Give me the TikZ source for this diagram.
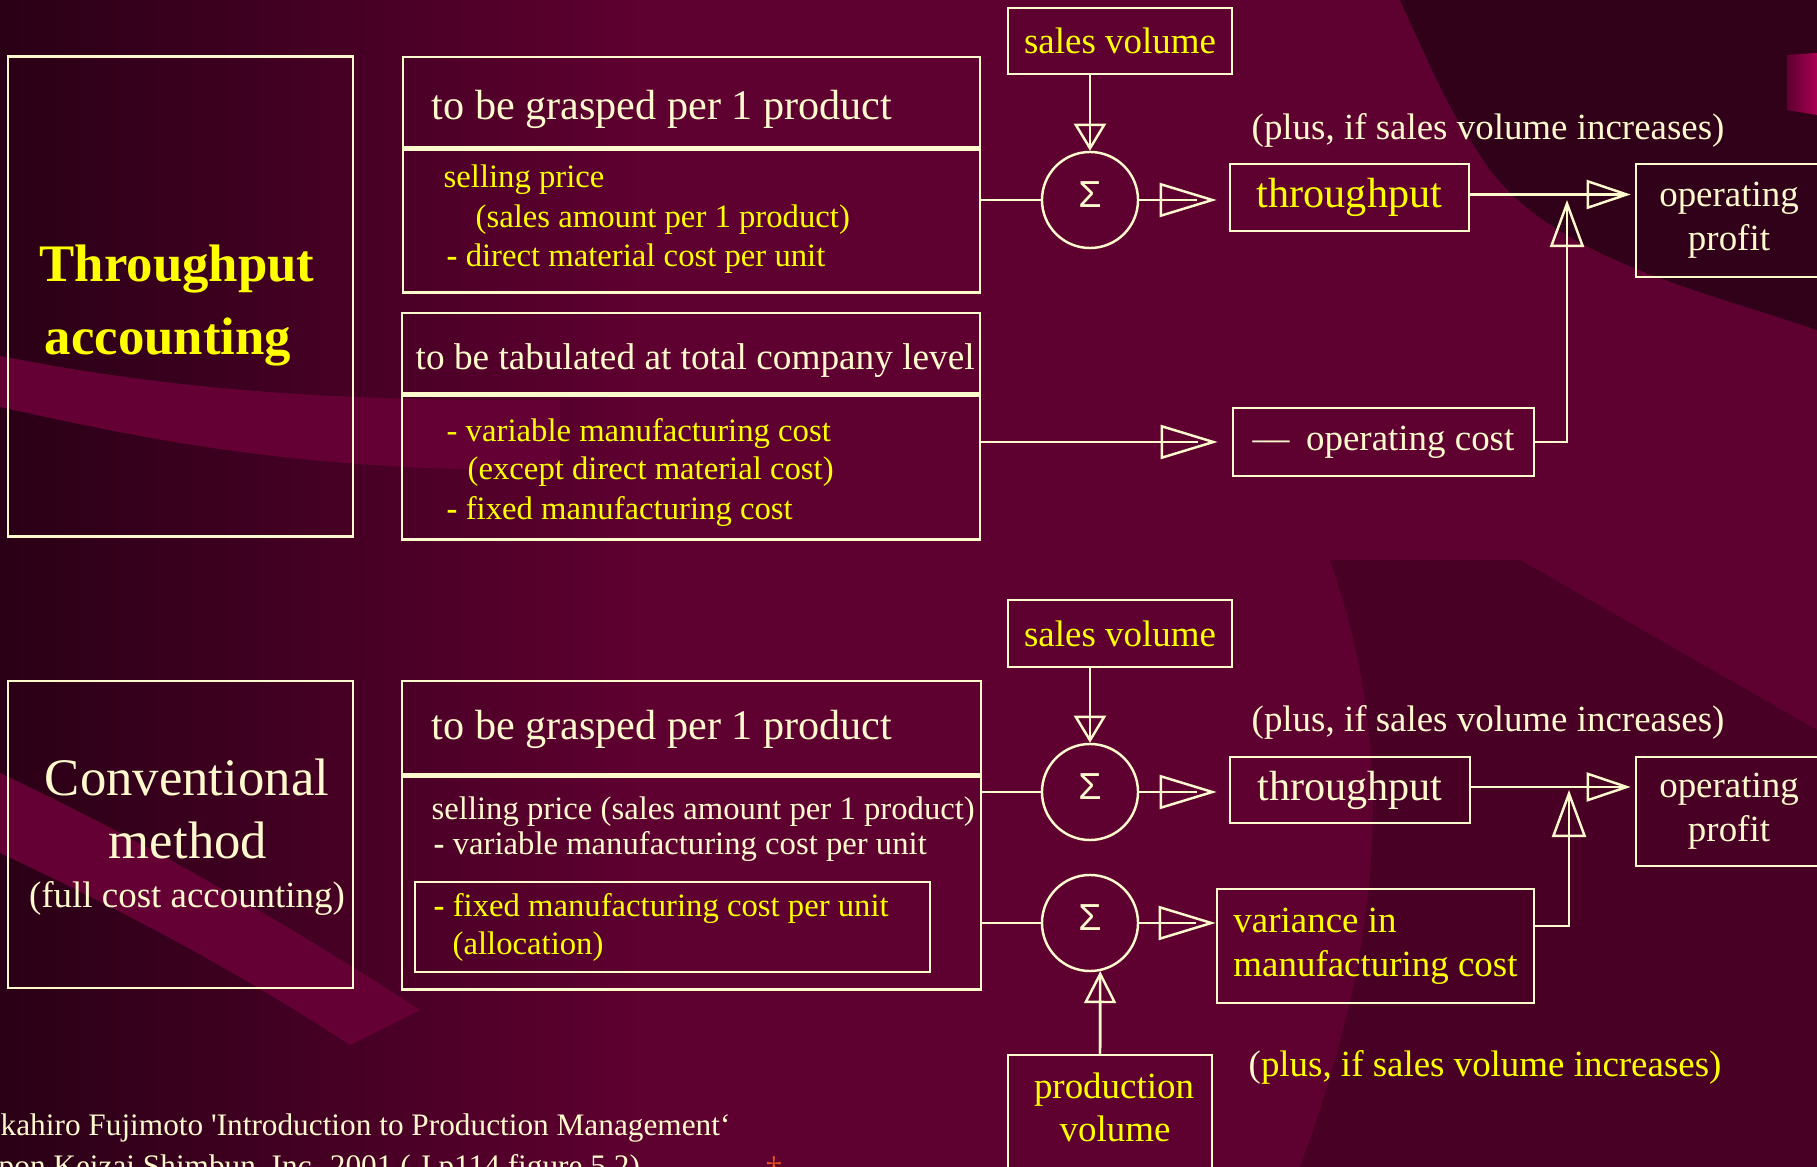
\documentclass[tikz,border=0pt]{standalone}
\usepackage{fontspec}
\setmainfont{Liberation Serif}
\setsansfont{Liberation Sans}
\usetikzlibrary{positioning, arrows.meta}

\definecolor{cream}{RGB}{255,250,205}
\definecolor{hiyellow}{RGB}{255,255,0}
\definecolor{wine}{RGB}{94,0,48}
\definecolor{darkwine}{RGB}{42,0,22}
\definecolor{bandwine}{RGB}{100,0,52}
\definecolor{pinkwine}{RGB}{170,0,85}
\definecolor{markorange}{RGB}{235,90,20}

\begin{document}
\begin{tikzpicture}[
    x=0.01cm, y=-0.01cm,
    box/.style={
        rectangle,
        draw=cream,
        line width=0.7pt,
        inner sep=0pt
    },
    sumnode/.style={
        circle,
        draw=cream,
        line width=0.7pt,
        minimum size=0.96cm,
        inner sep=0pt,
        text=cream,
        text depth=0.1cm,
        font=\sffamily\fontsize{10.7}{12}\selectfont
    },
    cr/.style={text=cream, inner sep=0pt},
    yl/.style={text=hiyellow, inner sep=0pt},
    titlefont/.style={font=\bfseries\fontsize{15}{18}\selectfont},
    convfont/.style={font=\fontsize{15}{18}\selectfont},
    headfont/.style={font=\fontsize{12}{14}\selectfont},
    tabfont/.style={font=\fontsize{10.6}{13}\selectfont},
    listfont/.style={font=\fontsize{9.3}{11}\selectfont},
    midfont/.style={font=\fontsize{10.5}{12.5}\selectfont},
    notefont/.style={font=\fontsize{8.9}{11}\selectfont},
    wire/.style={draw=cream, line width=0.7pt},
    linein/.style={postaction={draw=cream, line width=0.7pt, arrows=-, shorten >=#1}},
    sidearrow/.style={wire, -{Triangle[open, length=0.57cm, width=0.34cm]}},
    downarrow/.style={wire, -{Triangle[open, length=0.27cm, width=0.32cm]}},
    uparrow/.style={wire, -{Triangle[open, length=0.47cm, width=0.34cm]}},
    prodarrow/.style={wire, -{Triangle[open, length=0.32cm, width=0.32cm]}},
    profitarrow/.style={wire, -{Triangle[open, length=0.44cm, width=0.29cm]}}
]

% Background
\useasboundingbox (0,0) rectangle (1817,1167);
\clip (0,0) rectangle (1817,1167);
\fill[wine] (0,0) rectangle (1817,1167);
\shade[left color=darkwine, right color=wine] (0,0) rectangle (640,1167);
\fill[bandwine] (0,356) .. controls (150,385) and (300,402) .. (560,400)
    -- (560,470) .. controls (300,472) and (150,440) .. (0,407) -- cycle;
\fill[bandwine] (0,773) .. controls (120,830) and (250,900) .. (420,1010)
    -- (350,1045) .. controls (220,960) and (100,900) .. (0,853) -- cycle;
\fill[darkwine, opacity=0.85] (1400,0) -- (1817,0) -- (1817,330)
    .. controls (1700,290) and (1560,260) .. (1490,170) .. controls (1450,110) .. (1400,0) -- cycle;
\fill[darkwine, opacity=0.4] (1330,560) -- (1520,560) -- (1817,730) -- (1817,1167)
    -- (1300,1167) .. controls (1380,950) and (1400,760) .. (1330,560) -- cycle;
\shade[left color=wine, right color=pinkwine] (1787,55) -- (1817,53) -- (1817,115) -- (1787,110) -- cycle;

% Throughput accounting (top)
\node[box, minimum width=3.45cm, minimum height=4.80cm] (tabox) at (180.5,296.5) {};
\node[titlefont, yl, anchor=base] (tatop) at (177,282) {Throughput};
\node[titlefont, yl, anchor=base] (tabot) at (168,355) {accounting};

\node[box, minimum width=5.77cm, minimum height=0.90cm] (grasp1) at (691.5,102) {};
\node[box, minimum width=5.77cm, minimum height=1.43cm, below=0pt of grasp1] (sell1) {};
\node[headfont, cr, anchor=base west] (grasp1txt) at (431,120) {to be grasped per 1 product};
\node[listfont, yl, anchor=base west] (sell1a) at (443,188) {selling price};
\node[listfont, yl, anchor=base west] (sell1b) at (475,228) {(sales amount per 1 product)};
\node[listfont, yl, anchor=base west] (sell1c) at (446,267) {\textbf{-} direct material cost per unit};

\node[box, minimum width=5.78cm, minimum height=0.80cm] (tab1) at (691,353) {};
\node[box, minimum width=5.78cm, minimum height=1.44cm, below=0pt of tab1] (tab1b) {};
\node[tabfont, cr, anchor=base west] (tab1txt) at (415,370) {to be tabulated at total company level};
\node[listfont, yl, anchor=base west] (tabline1) at (446,442) {- variable manufacturing cost};
\node[listfont, yl, anchor=base west] (tabline2) at (467,480) {(except direct material cost)};
\node[listfont, yl, anchor=base west] (tabline3) at (446,520) {\textbf{-} fixed manufacturing cost};

\node[box, midfont, yl, minimum width=2.24cm, minimum height=0.66cm] (sv1) at (1120,41) {sales volume};
\node[sumnode] (sig1) at (1090,200) {Σ};
\node[box, headfont, yl, minimum width=2.39cm, minimum height=0.67cm] (tp1) at (1349.5,197.5) {throughput};
\node[midfont, cr, anchor=base west] (plus1) at (1251,140) {(plus, if sales volume increases)};
\node[box, midfont, cr, align=center, minimum width=1.86cm, minimum height=1.13cm] (op1) at (1729,220.5) {operating\\profit};
\node[box, midfont, cr, minimum width=3.01cm, minimum height=0.68cm] (oc1) at (1383.5,442) {—\hspace{0.45em}operating cost};
\coordinate (join1) at (1567,200);

% Arrows - throughput accounting
\draw[downarrow, linein=0.03cm] (sig1.north |- sv1.south) -- (sig1.north);
\draw[wire] (sell1.east |- sig1.west) -- (sig1.west);
\draw[sidearrow, shorten >=0.12cm, linein=0.32cm] (sig1.east) -- (sig1.east -| tp1.west);
\draw[profitarrow, shorten >=0.04cm, linein=0.12cm] ([yshift=0.03cm]tp1.east) -- ([yshift=0.03cm]tp1.east -| op1.west);
\draw[sidearrow, shorten >=0.14cm, linein=0.34cm] (tab1b.east |- oc1.west) -- (oc1.west);
\draw[uparrow, linein=0.05cm] (oc1.east) -| (join1);

% Conventional method (bottom)
\node[box, minimum width=3.45cm, minimum height=3.07cm] (cmbox) at (180.5,834.5) {};
\node[convfont, cr, anchor=base] (cm1) at (187,796) {Conventional};
\node[convfont, cr, anchor=base] (cm2) at (188,859) {method};
\node[midfont, cr, anchor=base] (cm3) at (187,908) {(full cost accounting)};

\node[box, minimum width=5.79cm, minimum height=0.93cm] (grasp2) at (691.5,727.5) {};
\node[box, minimum width=5.79cm, minimum height=2.13cm, below=0pt of grasp2] (body2) {};
\node[box, minimum width=5.15cm, minimum height=0.90cm] (fixbox) at (672.5,927) {};
\node[headfont, cr, anchor=base west] (grasp2txt) at (431,740) {to be grasped per 1 product};
\node[listfont, cr, anchor=base west] (sell2a) at (431,820) {selling price (sales amount per 1 product)};
\node[listfont, cr, anchor=base west] (sell2b) at (433,855) {\textbf{-} variable manufacturing cost per unit};
\node[listfont, yl, anchor=base west] (fix2a) at (433,917) {\textbf{-} fixed manufacturing cost per unit};
\node[listfont, yl, anchor=base west] (fix2b) at (452,955) {(allocation)};

\node[box, midfont, yl, minimum width=2.24cm, minimum height=0.67cm] (sv2) at (1120,633.5) {sales volume};
\node[sumnode] (sig2a) at (1090,792) {Σ};
\node[sumnode] (sig2b) at (1090,923) {Σ};
\node[box, headfont, cr, minimum width=2.40cm, minimum height=0.66cm] (tp2) at (1350,790) {throughput};
\node[midfont, cr, anchor=base west] (plus2) at (1251,732) {(plus, if sales volume increases)};
\node[box, midfont, cr, align=center, minimum width=1.86cm, minimum height=1.09cm] (op2) at (1729,811.5) {operating\\profit};
\node[box, midfont, yl, align=left, minimum width=3.17cm, minimum height=1.14cm] (var2) at (1375.5,946) {variance in\\manufacturing cost};
\node[midfont, yl, anchor=base west] (plus3) at (1248,1077) {\textcolor{cream}{(}plus, if sales volume increases)};
\node[box, minimum width=2.04cm, minimum height=1.35cm] (pv2) at (1110,1122.5) {};
\node[midfont, yl, anchor=base] (pvtxt1) at (1114,1098) {production};
\node[midfont, yl, anchor=base] (pvtxt2) at (1115,1142) {volume};
\coordinate (join2) at (1569,790);

% Arrows - conventional method
\draw[downarrow, linein=0.03cm] (sig2a.north |- sv2.south) -- (sig2a.north);
\draw[wire] (body2.east |- sig2a.west) -- (sig2a.west);
\draw[wire] (body2.east |- sig2b.west) -- (sig2b.west);
\draw[sidearrow, shorten >=0.12cm, linein=0.32cm] (sig2a.east) -- (sig2a.east -| tp2.west);
\draw[sidearrow, linein=0.2cm] (sig2b.east) -- (sig2b.east -| var2.west);
\draw[profitarrow, shorten >=0.04cm, linein=0.12cm] ([yshift=0.03cm]tp2.east) -- ([yshift=0.03cm]tp2.east -| op2.west);
\draw[uparrow, linein=0.05cm] ([yshift=0.2cm]var2.east) -| (join2);
\draw[prodarrow, linein=0.03cm] ([xshift=-0.1cm]pv2.north) -- (sig2b.-78);

% Source note
\node[notefont, cr, anchor=base west] (note1) at (0,1136) {kahiro Fujimoto \textquotesingle Introduction to Production Management‘};
\node[notefont, cr, anchor=base west] (note2) at (-2,1176) {pon Keizai Shimbun, Inc. 2001 ( J p114 figure 5.2)};
\node[notefont, text=markorange, inner sep=0pt, anchor=base] (mark) at (774,1178) {‡};

\end{tikzpicture}
\end{document}
